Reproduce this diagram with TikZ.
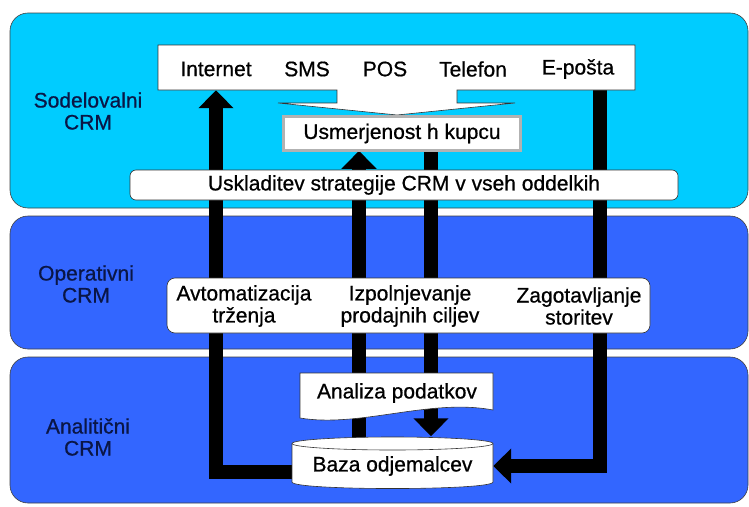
\documentclass[tikz,border=0pt]{standalone}
\usepackage{fontspec}
\setmainfont{Liberation Sans}[FakeBold=0.7]
\usetikzlibrary{arrows.meta}
\definecolor{crmcyan}{RGB}{0,204,255}
\definecolor{crmblue}{RGB}{51,102,255}
\definecolor{crmnavy}{RGB}{10,22,70}
\pgfdeclarelayer{panels}
\pgfdeclarelayer{arrows}
\pgfsetlayers{panels,arrows,main}

\begin{document}
\begin{tikzpicture}[x=1pt,y=-1pt,
    font=\fontsize{21}{22}\selectfont,
    panel/.style={draw=black!75, line width=0.6pt, rounded corners=18pt},
    level/.style={text=crmnavy, align=center},
    box/.style={draw=black!80, line width=0.6pt, fill=white, inner sep=0pt},
    flow/.style={line width=14pt, -{Triangle[width=34pt,length=18pt]}}]
    \useasboundingbox (0,0) rectangle (749,506);

    % three levels
    \begin{pgfonlayer}{panels}
    \draw[panel, fill=crmcyan] (10,13) rectangle (748,208);
    \draw[panel, fill=crmblue] (10,216) rectangle (748,349);
    \draw[panel, fill=crmblue] (10,357) rectangle (748,503);
    \end{pgfonlayer}
    \node[level] (sodel) at (88,111) {Sodelovalni\\CRM};
    \node[level] (oper) at (86,284) {Operativni\\CRM};
    \node[level] (anal) at (88,437) {Analitični\\CRM};

    % channels callout
    \draw[box] (158,45) -- (635,45) -- (635,90) -- (457,90) -- (457,103) -- (515,103)
        -- (397,115) -- (278,103) -- (337,103) -- (337,90) -- (158,90) -- cycle;
    \node (kanali) at (396.5,67.5) [minimum width=477, minimum height=45, inner sep=0pt] {};
    \node (internet) at (216,69) {Internet};
    \node (sms) at (307,69) {SMS};
    \node (pos) at (385,69) {POS};
    \node (telefon) at (473,69) {Telefon};
    \node (eposta) at (578,69) {E-pošta};
    \coordinate (epin) at ([xshift=22pt]eposta.south);

    \node[box, draw=black!75, double=gray!60, double distance=2.5pt,
          minimum width=237, minimum height=34] (usmer) at (402,133.5) {Usmerjenost h kupcu};
    \node[box, rounded corners=6pt, minimum width=548, minimum height=30] (uskl) at (404,185)
        {Uskladitev strategije CRM v vseh oddelkih};

    % operative box
    \node[box, rounded corners=8pt, minimum width=483, minimum height=55] (ops) at (408.5,305.5) {};
    \node[align=center] (avto) at (244,306) {Avtomatizacija\\trženja};
    \node[align=center] (izpol) at (410,306) {Izpolnjevanje\\prodajnih ciljev};
    \node[align=center] (zagot) at (579,306) {Zagotavljanje\\storitev};

    % analysis and database
    \draw[box] (300,373) -- (493,373) -- (493,410) .. controls (430,398) and (360,428) .. (300,418) -- cycle;
    \node (analiza) at (397,393) {Analiza podatkov};
    \draw[box] (292,443.5) -- (292,482) .. controls (292,490.7) and (493,490.7) .. (493,482) -- (493,443.5);
    \draw[box] (392.5,443.5) ellipse [x radius=100.5, y radius=6.5];
    \node (baza) at (392.5,466) [minimum width=201, minimum height=51, inner sep=0pt] {Baza odjemalcev};

    \begin{pgfonlayer}{arrows}
    \draw[flow] ([yshift=-6pt]baza.west) -| (internet |- kanali.south);
    \draw[flow] ([xshift=-33.5pt]baza.north) -- ([xshift=-43pt]usmer.south);
    \draw[flow] ([xshift=29pt]usmer.south) -- ([xshift=38.5pt,yshift=4pt]baza.north);
    \draw[flow] (epin |- kanali.south) |- (baza.east);
    \end{pgfonlayer}
\end{tikzpicture}
\end{document}
